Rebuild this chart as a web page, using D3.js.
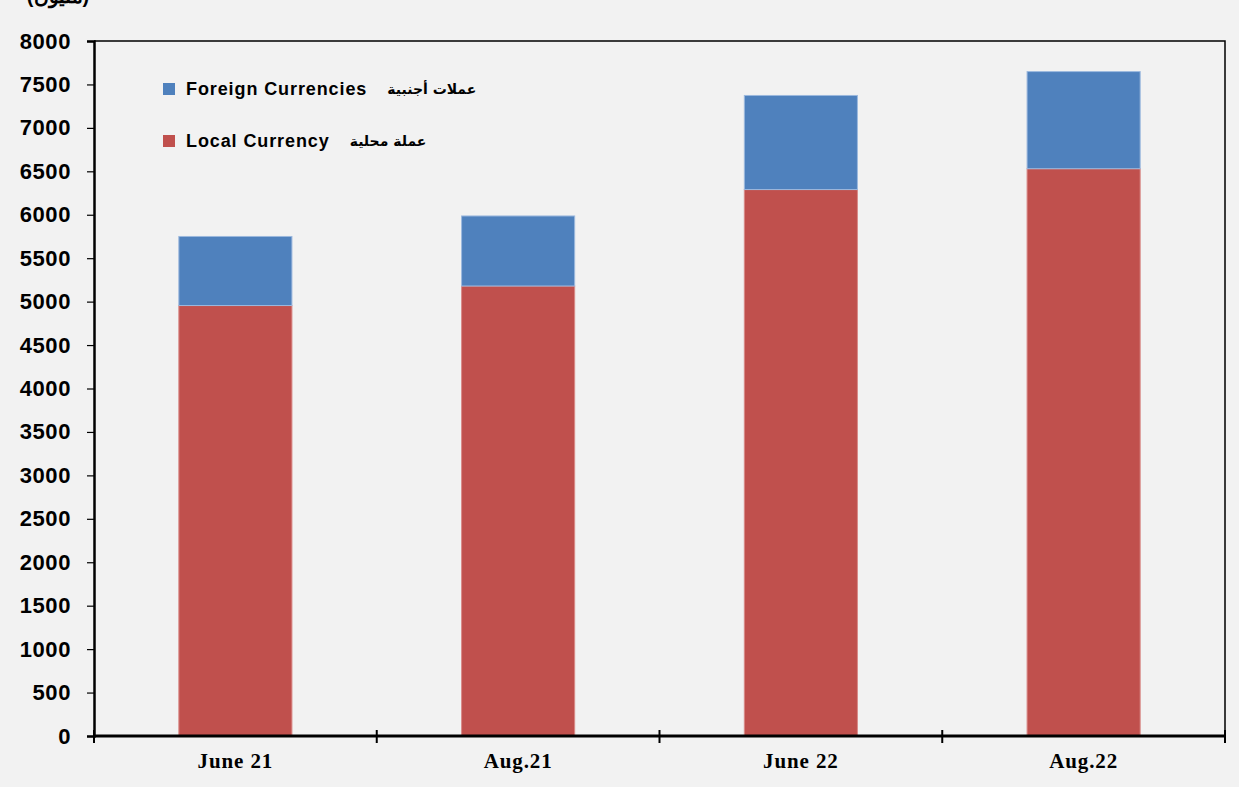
<!DOCTYPE html>
<html><head><meta charset="utf-8">
<script src="https://cdn.jsdelivr.net/npm/d3@7"></script>
<style>body{margin:0;background:#f2f2f2;}svg{display:block;}</style>
</head><body>
<svg id="c" width="1239" height="787"></svg>
<script>
const categories = ["June 21", "Aug.21", "June 22", "Aug.22"];
const localCurrency = [4955, 5180, 6290, 6530];
const foreignCurrencies = [795, 806, 1083, 1118];
const yTicks = [0,500,1000,1500,2000,2500,3000,3500,4000,4500,5000,5500,6000,6500,7000,7500,8000];
const seriesNames = ["Local Currency", "Foreign Currencies"];
const seriesArabic = ["عملة محلية", "عملات أجنبية"];
const colors = ["#c0504d", "#4f81bd"];

const svg = d3.select("#c");
const m = {l:94, r:1225, t:41, b:736};
const x = d3.scaleBand().domain(categories).range([m.l, m.r]).paddingInner(0.6).paddingOuter(0.3);
const y = d3.scaleLinear().domain([0, 8000]).range([m.b, m.t]);

svg.append("rect").attr("width",1239).attr("height",787).attr("fill","#f2f2f2");

// partially visible unit label at top (clipped by the top edge as in the reference)
svg.append("text").attr("x",58).attr("y",3).attr("text-anchor","middle")
  .attr("font-family","Liberation Sans, Arial").attr("font-weight","bold").attr("font-size",20)
  .text("(مليون)");

const data = categories.map((c,i)=>({cat:c, local:localCurrency[i], foreign:foreignCurrencies[i]}));
const stack = d3.stack().keys(["local","foreign"])(data);
svg.append("g").selectAll("g").data(stack).join("g")
  .attr("fill",(d,i)=>colors[i])
  .attr("stroke",(d,i)=>i===0?"#d98a88":"#9cb9de").attr("stroke-width",1)
  .selectAll("rect").data(d=>d).join("rect")
  .attr("x",d=>x(d.data.cat)).attr("width",x.bandwidth())
  .attr("y",d=>y(d[1])).attr("height",d=>y(d[0])-y(d[1]));

// border top & right
svg.append("path").attr("d",`M${m.l},${m.t}H${m.r}V${m.b}`).attr("fill","none").attr("stroke","#000").attr("stroke-width",1.5);

// y axis
const ya = svg.append("g").attr("transform",`translate(${m.l},0)`)
  .call(d3.axisLeft(y).tickValues(yTicks).tickSize(7).tickPadding(16).tickFormat(d3.format("d")));
ya.select(".domain").attr("stroke","#000").attr("stroke-width",2.5);
ya.selectAll(".tick line").attr("stroke","#000").attr("stroke-width",1.2);
ya.selectAll("text").attr("font-family","Liberation Sans, Arial").attr("font-weight","bold").attr("font-size",22).attr("letter-spacing",0.6).attr("fill","#000");

// x axis
const xa = svg.append("g").attr("transform",`translate(0,${m.b})`)
  .call(d3.axisBottom(x).tickSize(0).tickPadding(17));
xa.select(".domain").remove();
xa.selectAll("text").attr("font-family","Liberation Serif, Times New Roman").attr("font-weight","bold").attr("font-size",21).attr("letter-spacing",0.9).attr("fill","#000");
svg.append("line").attr("x1",m.l).attr("x2",m.r).attr("y1",m.b).attr("y2",m.b).attr("stroke","#000").attr("stroke-width",3);
const bounds = d3.range(categories.length+1).map(i=>m.l + i*(m.r-m.l)/categories.length);
svg.append("g").selectAll("line").data(bounds).join("line")
  .attr("x1",d=>d).attr("x2",d=>d).attr("y1",m.b-6).attr("y2",m.b+7)
  .attr("stroke","#000").attr("stroke-width",2);

// legend
const legY = [141, 89];
[1,0].forEach(i=>{
  const g = svg.append("g");
  g.append("rect").attr("x",163).attr("y",legY[i]-6).attr("width",12).attr("height",12).attr("fill",colors[i]);
  const t = g.append("text").attr("x",186).attr("y",legY[i]+6).attr("font-family","Liberation Sans, Arial").attr("font-weight","bold").attr("font-size",18).attr("letter-spacing",0.9).attr("fill","#000").text(seriesNames[i]);
  const w = t.node().getComputedTextLength();
  g.append("text").attr("x",186+w+20).attr("y",legY[i]+5).attr("font-family","DejaVu Sans, Noto Sans").attr("font-weight","bold").attr("font-size",14).attr("fill","#000").attr("direction","rtl").attr("text-anchor","end").text(seriesArabic[i]);
});
</script>
</body></html>
